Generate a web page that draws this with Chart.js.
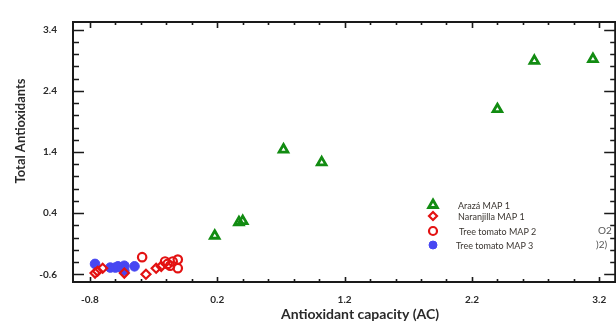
<!DOCTYPE html>
<html>
<head>
<meta charset="utf-8">
<script src="https://cdn.jsdelivr.net/npm/chart.js@4/dist/chart.umd.min.js"></script>
<style>
  html, body { margin: 0; padding: 0; background: #fff; overflow: hidden; }
  #wrap { width: 623px; height: 332px; }
</style>
</head>
<body>
<div id="wrap"><canvas id="chart" width="623" height="332"></canvas></div>
<script>
// Values
const arazaX = [0.18, 0.37, 0.40, 0.72, 1.02, 2.40, 2.69, 3.15];
const arazaY = [0.03, 0.25, 0.27, 1.44, 1.23, 2.10, 2.89, 2.92];

const naranjillaX = [-0.76, -0.74, -0.70, -0.53, -0.36, -0.28, -0.24];
const naranjillaY = [-0.58, -0.55, -0.50, -0.58, -0.60, -0.50, -0.47];

const tomato2X = [-0.39, -0.21, -0.19, -0.17, -0.15, -0.11, -0.11];
const tomato2Y = [-0.32, -0.39, -0.43, -0.46, -0.39, -0.36, -0.50];

const tomato3X = [-0.76, -0.64, -0.60, -0.58, -0.55, -0.53, -0.53, -0.45];
const tomato3Y = [-0.43, -0.49, -0.49, -0.47, -0.50, -0.46, -0.54, -0.47];

const xTicks = [-0.8, 0.2, 1.2, 2.2, 3.2];
const yTicks = [-0.6, 0.4, 1.4, 2.4, 3.4];

const seriesNames = ["Arazá MAP 1", "Naranjilla MAP 1", "Tree tomato MAP 2", "Tree tomato MAP 3"];

const X_MIN = -0.933, X_MAX = 3.325;
const Y_MIN = -0.726, Y_MAX = 3.526;

const GREEN = "#128c12";
const RED = "#e31212";
const BLUE = "#4747f2";
const FONT = "Lato, 'Open Sans', sans-serif";

const toPoints = (xs, ys) => xs.map((x, i) => ({ x: x, y: ys[i] }));

const datasets = [
  {
    label: seriesNames[0],
    data: toPoints(arazaX, arazaY),
    pointStyle: "triangle",
    pointRadius: 5,
    borderColor: GREEN,
    backgroundColor: "rgba(0,0,0,0)",
    borderWidth: 2.8,
  },
  {
    label: seriesNames[1],
    data: toPoints(naranjillaX, naranjillaY),
    pointStyle: "rectRot",
    pointRadius: 4.5,
    borderColor: RED,
    backgroundColor: "rgba(0,0,0,0)",
    borderWidth: 2.2,
  },
  {
    label: seriesNames[2],
    data: toPoints(tomato2X, tomato2Y),
    pointStyle: "circle",
    pointRadius: 4.2,
    borderColor: RED,
    backgroundColor: "rgba(0,0,0,0)",
    borderWidth: 2.2,
  },
  {
    label: seriesNames[3],
    data: toPoints(tomato3X, tomato3Y),
    pointStyle: "circle",
    pointRadius: 4.8,
    borderColor: BLUE,
    backgroundColor: BLUE,
    borderWidth: 1,
  },
];

// Frame with inward ticks, axis titles and the in-plot legend
const framePlugin = {
  id: "frame",
  afterDraw(chart) {
    const ctx = chart.ctx;
    const a = chart.chartArea;
    const xs = chart.scales.x;
    const ys = chart.scales.y;
    ctx.save();

    ctx.strokeStyle = "#1a1a1a";
    ctx.lineWidth = 2;
    ctx.strokeRect(a.left, a.top, a.right - a.left, a.bottom - a.top);

    ctx.lineWidth = 1.6;
    ctx.beginPath();
    for (let v = -0.8; v <= xs.max + 1e-9; v += 0.2) {
      const px = Math.round(xs.getPixelForValue(v)) + 0.5;
      const major = xTicks.some((t) => Math.abs(t - v) < 1e-6);
      ctx.moveTo(px, a.bottom);
      ctx.lineTo(px, a.bottom - (major ? 5 : 3));
      ctx.moveTo(px, a.top);
      ctx.lineTo(px, a.top + (major ? 6 : 3));
    }
    for (let v = -0.6; v <= ys.max + 1e-9; v += 0.2) {
      const py = Math.round(ys.getPixelForValue(v)) + 0.5;
      const major = yTicks.some((t) => Math.abs(t - v) < 1e-6);
      ctx.moveTo(a.left, py);
      ctx.lineTo(a.left + (major ? 11 : 6), py);
      ctx.moveTo(a.right, py);
      ctx.lineTo(a.right - (major ? 11 : 5), py);
    }
    ctx.stroke();

    // axis titles
    ctx.fillStyle = "#2a2a2a";
    ctx.font = "bold 14px " + FONT;
    ctx.textAlign = "center";
    ctx.textBaseline = "middle";
    ctx.fillText("Antioxidant capacity (AC)", 360, 314);
    ctx.save();
    ctx.translate(21, 131);
    ctx.rotate(-Math.PI / 2);
    ctx.font = "bold 13px " + FONT;
    ctx.fillText("Total Antioxidants", 0, 0);
    ctx.restore();

    // legend
    const rows = [205, 216, 231, 245];
    const textX = [458, 458, 459, 456];
    ctx.font = "9px " + FONT;
    ctx.textAlign = "left";
    datasets.forEach((ds, i) => {
      ctx.strokeStyle = ds.borderColor;
      ctx.fillStyle = ds.backgroundColor;
      ctx.lineWidth = ds.borderWidth;
      Chart.helpers.drawPoint(ctx, {
        pointStyle: ds.pointStyle,
        radius: ds.pointStyle === "triangle" ? 5 : 4,
        rotation: 0,
        borderWidth: ds.borderWidth,
      }, 433, rows[i]);
      ctx.fillStyle = "#3a3530";
      ctx.fillText(ds.label, textX[i], rows[i] + 1);
    });

    // clipped text remnants at the right edge
    ctx.fillStyle = "#555";
    ctx.font = "10px " + FONT;
    ctx.fillText("O2", 598, 231);
    ctx.fillText(")2)", 596, 245);

    ctx.restore();
  },
};

new Chart(document.getElementById("chart"), {
  type: "scatter",
  data: { datasets: datasets },
  options: {
    responsive: false,
    animation: false,
    layout: { padding: { top: 13, right: 0, left: 0, bottom: 0 } },
    plugins: {
      legend: { display: false },
      tooltip: { enabled: false },
    },
    scales: {
      x: {
        type: "linear",
        min: X_MIN,
        max: X_MAX,
        border: { display: false },
        grid: { display: false, drawTicks: false },
        afterBuildTicks: (scale) => {
          scale.ticks = xTicks.map((v) => ({ value: v }));
        },
        afterFit: (scale) => {
          scale.height = 50;
        },
        ticks: {
          padding: 12,
          color: "#2a2a2a",
          font: { family: FONT, size: 10, weight: "bold" },
          callback: (v) => v.toFixed(1),
        },
      },
      y: {
        type: "linear",
        min: Y_MIN,
        max: Y_MAX,
        border: { display: false },
        grid: { display: false, drawTicks: false },
        afterBuildTicks: (scale) => {
          scale.ticks = yTicks.map((v) => ({ value: v }));
        },
        afterFit: (scale) => {
          scale.width = 73;
        },
        ticks: {
          padding: 16,
          color: "#2a2a2a",
          font: { family: FONT, size: 10, weight: "bold" },
          callback: (v) => v.toFixed(1),
        },
      },
    },
  },
  plugins: [framePlugin],
});
</script>
</body>
</html>
